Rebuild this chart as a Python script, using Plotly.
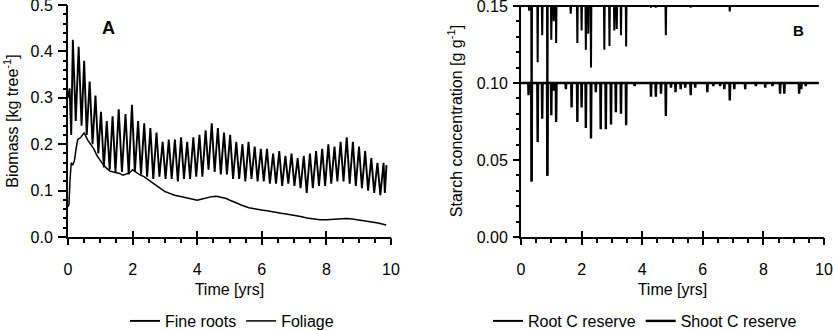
import plotly.graph_objects as go

# ---- Panel A: biomass per tree over ten years ----
fine_root_t = [0.0, 0.05, 0.10, 0.15, 0.24, 0.33, 0.42, 0.50, 0.58, 0.67, 0.76, 0.85, 0.94,
               1.02, 1.11, 1.20, 1.29, 1.38, 1.47, 1.57, 1.67, 1.78, 1.88, 1.98,
               2.07, 2.17, 2.26, 2.36, 2.45, 2.55, 2.64, 2.74, 2.83, 2.93,
               3.02, 3.12, 3.21, 3.31, 3.40, 3.50, 3.59, 3.69, 3.78, 3.88, 3.97,
               4.07, 4.16, 4.26, 4.35, 4.45, 4.54, 4.64, 4.73, 4.83, 4.92,
               5.02, 5.11, 5.21, 5.30, 5.40, 5.49, 5.59, 5.68, 5.78, 5.87, 5.97,
               6.06, 6.16, 6.25, 6.35, 6.44, 6.54, 6.63, 6.73, 6.82, 6.92,
               7.01, 7.11, 7.20, 7.30, 7.39, 7.49, 7.58, 7.68, 7.77, 7.87, 7.96,
               8.06, 8.15, 8.25, 8.34, 8.44, 8.53, 8.63, 8.72, 8.82, 8.91,
               9.01, 9.10, 9.20, 9.29, 9.39, 9.48, 9.58, 9.67, 9.77, 9.81, 9.86]
fine_root_kg = [0.30, 0.32, 0.22, 0.425, 0.25, 0.41, 0.24, 0.38, 0.22, 0.335, 0.20, 0.305, 0.18,
                0.27, 0.15, 0.25, 0.145, 0.26, 0.14, 0.275, 0.14, 0.265, 0.135, 0.285,
                0.14, 0.25, 0.135, 0.245, 0.13, 0.235, 0.125, 0.225, 0.13, 0.205,
                0.125, 0.21, 0.125, 0.21, 0.12, 0.215, 0.125, 0.205, 0.125, 0.215, 0.13,
                0.22, 0.13, 0.23, 0.145, 0.245, 0.14, 0.235, 0.135, 0.225, 0.135,
                0.22, 0.125, 0.205, 0.125, 0.20, 0.12, 0.205, 0.125, 0.195, 0.12, 0.19,
                0.12, 0.19, 0.115, 0.18, 0.115, 0.185, 0.11, 0.175, 0.115, 0.18,
                0.11, 0.17, 0.105, 0.175, 0.095, 0.18, 0.105, 0.185, 0.11, 0.19, 0.11,
                0.20, 0.115, 0.195, 0.12, 0.205, 0.12, 0.215, 0.115, 0.205, 0.11,
                0.195, 0.105, 0.185, 0.10, 0.17, 0.095, 0.16, 0.09, 0.16, 0.095, 0.155]

foliage_t = [0.0, 0.03, 0.06, 0.1, 0.15, 0.2, 0.25, 0.3, 0.4, 0.5,
             0.6, 0.7, 0.8, 0.9, 1.0, 1.1, 1.2, 1.3, 1.4, 1.5,
             1.6, 1.7, 1.8, 1.9, 2.0, 2.1, 2.2, 2.35, 2.5, 2.65,
             2.8, 3.0, 3.15, 3.3, 3.45, 3.6, 3.8, 4.0, 4.15, 4.3,
             4.45, 4.6, 4.75, 4.9, 5.05, 5.2, 5.4, 5.6, 5.8, 6.0,
             6.2, 6.4, 6.6, 6.8, 7.0, 7.2, 7.4, 7.6, 7.8, 8.0,
             8.2, 8.4, 8.6, 8.8, 9.0, 9.2, 9.4, 9.6, 9.85]
foliage_kg = [0.065, 0.07, 0.12, 0.16, 0.155, 0.165, 0.19, 0.21, 0.215, 0.225,
              0.21, 0.20, 0.19, 0.175, 0.165, 0.155, 0.148, 0.142, 0.14, 0.138,
              0.137, 0.133, 0.135, 0.138, 0.145, 0.14, 0.135, 0.13, 0.123, 0.115,
              0.108, 0.098, 0.094, 0.09, 0.088, 0.086, 0.082, 0.079, 0.082, 0.085,
              0.087, 0.088, 0.085, 0.083, 0.078, 0.073, 0.068, 0.063, 0.06, 0.058,
              0.056, 0.053, 0.051, 0.049, 0.047, 0.044, 0.041, 0.039, 0.037, 0.037,
              0.038, 0.039, 0.04, 0.039, 0.037, 0.035, 0.032, 0.03, 0.026]

# ---- Panel B: starch reserves, saturated level with depletion events ----
root_reserve_max = 0.15
root_dip_t = [0.27, 0.35, 0.55, 0.70, 0.87, 1.00, 1.08, 1.16, 1.64, 1.86, 2.00, 2.14, 2.22,
              2.31, 2.75, 2.92, 3.08, 3.16, 3.30, 3.47, 4.29, 4.45, 4.78, 5.60, 6.89]
root_dip_v = [0.147, 0.036, 0.1135, 0.131, 0.0397, 0.128, 0.14, 0.126, 0.145, 0.126, 0.134, 0.1215, 0.132,
              0.110, 0.1215, 0.124, 0.134, 0.135, 0.131, 0.1236, 0.149, 0.149, 0.131, 0.149, 0.1465]

shoot_reserve_max = 0.10
shoot_dip_t = [0.25, 0.35, 0.55, 0.70, 0.87, 1.00, 1.08, 1.16, 1.48, 1.67,
               1.86, 2.00, 2.14, 2.31, 2.47, 2.63, 2.80, 2.97, 3.13, 3.30,
               3.47, 3.75, 4.29, 4.45, 4.62, 4.78, 4.95, 5.10, 5.27, 5.42,
               5.60, 5.75, 6.15, 6.35, 6.57, 6.71, 6.89, 7.04, 7.40, 7.75,
               8.06, 8.30, 8.55, 8.69, 9.18, 9.25, 9.40]
shoot_dip_v = [0.092, 0.036, 0.0616, 0.0768, 0.0397, 0.079, 0.095, 0.0746, 0.096, 0.084,
               0.0746, 0.084, 0.0708, 0.064, 0.094, 0.070, 0.070, 0.073, 0.081, 0.080,
               0.0725, 0.098, 0.091, 0.091, 0.093, 0.0786, 0.097, 0.094, 0.096, 0.097,
               0.092, 0.097, 0.094, 0.098, 0.098, 0.096, 0.0887, 0.096, 0.096, 0.098,
               0.097, 0.098, 0.093, 0.093, 0.093, 0.096, 0.098]
reserve_end_t = 9.83

assert len(fine_root_t) == len(fine_root_kg)
assert len(foliage_t) == len(foliage_kg)
assert len(root_dip_t) == len(root_dip_v)
assert len(shoot_dip_t) == len(shoot_dip_v)


def reserve_series(level, dip_t, dip_v, t_end, half_width=0.012):
    """Flat reserve level interrupted by brief depletion dips."""
    xs, ys = [0.0], [level]
    for t, v in zip(dip_t, dip_v):
        xs += [t - half_width, t, t + half_width]
        ys += [level, v, level]
    xs.append(t_end)
    ys.append(level)
    return xs, ys


root_x, root_y = reserve_series(root_reserve_max, root_dip_t, root_dip_v, reserve_end_t)
shoot_x, shoot_y = reserve_series(shoot_reserve_max, shoot_dip_t, shoot_dip_v, reserve_end_t)

FONT = "Liberation Sans, Arial, sans-serif"
BLACK = "black"

fig = go.Figure()
fig.add_trace(go.Scatter(x=fine_root_t, y=fine_root_kg, mode="lines", name="Fine roots",
                         line=dict(color=BLACK, width=1.9), xaxis="x", yaxis="y",
                         legend="legend"))
fig.add_trace(go.Scatter(x=foliage_t, y=foliage_kg, mode="lines", name="Foliage",
                         line=dict(color=BLACK, width=1.5), xaxis="x", yaxis="y",
                         legend="legend"))
fig.add_trace(go.Scatter(x=root_x, y=root_y, mode="lines", name="Root C reserve",
                         line=dict(color=BLACK, width=2), xaxis="x2", yaxis="y2",
                         legend="legend2"))
fig.add_trace(go.Scatter(x=shoot_x, y=shoot_y, mode="lines", name="Shoot C reserve",
                         line=dict(color=BLACK, width=2.4), xaxis="x2", yaxis="y2",
                         legend="legend2"))

# empty traces that attach the tick-only overlay axes to each panel
for xa, ya in (("x3", "y3"), ("x4", "y4"), ("x5", "y"), ("x6", "y2")):
    fig.add_trace(go.Scatter(x=[None], y=[None], mode="lines", xaxis=xa, yaxis=ya,
                             showlegend=False, hoverinfo="skip"))

W, H = 833, 331
dom_a = [68 / W, 391 / W]
dom_b = [521 / W, 824 / W]
dom_y = [1 - 237 / H, 1 - 5 / H]

NOLINE = dict(showline=False, showgrid=False, zeroline=False, showticklabels=False,
              tickcolor=BLACK)


def x_axis(domain, anchor):
    return dict(domain=domain, anchor=anchor, range=[0, 10], dtick=2, tick0=0,
                showline=True, linewidth=2, linecolor=BLACK,
                ticks="outside", ticklen=6, tickwidth=2, tickcolor=BLACK,
                showgrid=False, zeroline=False, ticklabelstandoff=11,
                ticklabeloverflow="allow",
                title=dict(text="Time [yrs]", standoff=7, font=dict(size=16)))


def x_minor(overlay, anchor):
    return dict(overlaying=overlay, anchor=anchor, range=[0, 10], dtick=0.5, tick0=0,
                ticks="outside", ticklen=5, tickwidth=1.5, **NOLINE)


def x_major_inner(overlay, anchor):
    # upper half of the major x ticks, so they cross the axis line
    return dict(overlaying=overlay, anchor=anchor, range=[0, 10], dtick=2, tick0=0,
                ticks="inside", ticklen=6, tickwidth=2, **NOLINE)


def y_minor(overlay, anchor, top, step):
    return dict(overlaying=overlay, anchor=anchor, range=[0, top], dtick=step, tick0=0,
                ticks="outside", ticklen=4, tickwidth=1.5, **NOLINE)


LEGEND_Y = 1 - 321 / H

fig.update_layout(
    width=W, height=H,
    margin=dict(l=0, r=0, t=0, b=0, autoexpand=False),
    paper_bgcolor="white", plot_bgcolor="white",
    font=dict(family=FONT, size=16, color=BLACK),
    xaxis=x_axis(dom_a, "y"),
    xaxis2=x_axis(dom_b, "y2"),
    xaxis3=x_minor("x", "y"),
    xaxis4=x_minor("x2", "y2"),
    xaxis5=x_major_inner("x", "y"),
    xaxis6=x_major_inner("x2", "y2"),
    yaxis=dict(domain=dom_y, anchor="x", range=[0, 0.5], dtick=0.1, tick0=0,
               tickformat=".1f", showline=True, linewidth=2, linecolor=BLACK,
               ticks="outside", ticklen=8, tickwidth=2, tickcolor=BLACK,
               showgrid=False, zeroline=False, ticklabelstandoff=2,
               ticklabeloverflow="allow",
               title=dict(text="Biomass [kg tree<sup>-1</sup>]", standoff=8,
                          font=dict(size=16))),
    yaxis2=dict(domain=dom_y, anchor="x2", range=[0, 0.1506], dtick=0.05, tick0=0,
                tickformat=".2f", showline=True, linewidth=2, linecolor=BLACK,
                ticks="outside", ticklen=6, tickwidth=2, tickcolor=BLACK,
                showgrid=False, zeroline=False, ticklabelstandoff=2,
                ticklabeloverflow="allow",
                title=dict(text="Starch concentration [g g<sup>-1</sup>]", standoff=10,
                           font=dict(size=16))),
    yaxis3=y_minor("y", "x", 0.5, 0.02),
    yaxis4=y_minor("y2", "x2", 0.1506, 0.01),
    legend=dict(orientation="h", x=232 / W, xanchor="center", y=LEGEND_Y,
                yanchor="middle", font=dict(size=16), bgcolor="rgba(0,0,0,0)",
                itemwidth=30, tracegroupgap=0),
    legend2=dict(orientation="h", x=645 / W, xanchor="center", y=LEGEND_Y,
                 yanchor="middle", font=dict(size=16), bgcolor="rgba(0,0,0,0)",
                 itemwidth=30, tracegroupgap=0),
    annotations=[
        dict(text="<b>A</b>", x=108 / W, y=1 - 28 / H, xref="paper", yref="paper",
             showarrow=False, font=dict(size=18), xanchor="center", yanchor="middle"),
        dict(text="<b>B</b>", x=798 / W, y=1 - 30 / H, xref="paper", yref="paper",
             showarrow=False, font=dict(size=15), xanchor="center", yanchor="middle"),
    ],
)

fig.write_html("out.html")
